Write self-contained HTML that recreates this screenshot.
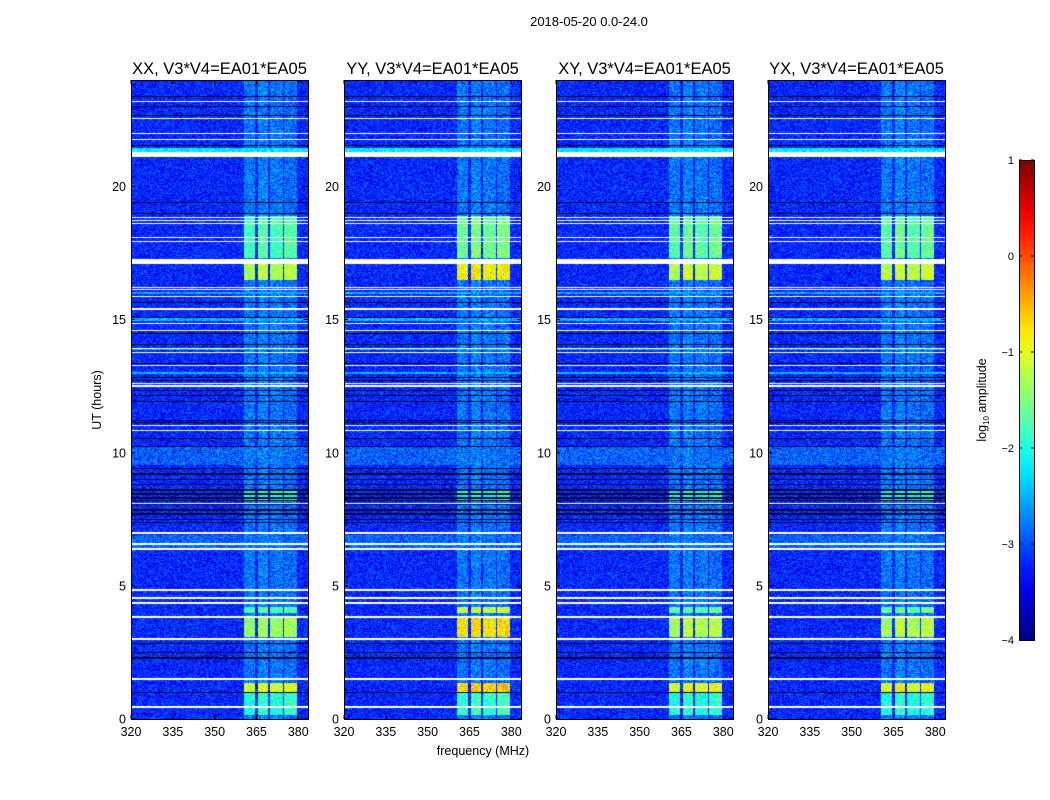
<!DOCTYPE html>
<html><head><meta charset="utf-8">
<style>
body{margin:0;background:#fff;}
#root{position:relative;width:1050px;height:800px;background:#fff;font-family:"Liberation Sans",sans-serif;overflow:hidden;}
canvas{position:absolute;}
</style></head>
<body>
<div id="root">
<svg id="svg" width="1050" height="800" style="position:absolute;left:0;top:0"></svg>
</div>
<script>
// ---- data ----
const panelTitles = ["XX, V3*V4=EA01*EA05","YY, V3*V4=EA01*EA05","XY, V3*V4=EA01*EA05","YX, V3*V4=EA01*EA05"];
const xTicks = [320,335,350,365,380];
const yTicks = [0,5,10,15,20];
const cbTicks = [1,0,-1,-2,-3,-4];
const freqBands = [[360.5,364.5],[365.5,369],[370,374.5],[375,379.5]];
const whiteLines = [23.2,22.55,21.99,21.76,18.84,18.72,18.6,18.09,17.94,16.2,16.14,15.87,15.4,14.85,14.6,13.92,13.77,13.28,12.6,12.5,11.03,10.84,8.1,6.98,6.57,4.84,4.54,4.35,3.83,3.0,1.5,0.45];
const whiteBands = [[21.1,21.3],[17.1,17.26],[6.33,6.42]];
const blackLines = [23.38,23.0,22.66,21.54,19.4,18.98,15.65,15.08,14.48,14.07,13.35,12.83,12.72,12.35,12.16,11.93,11.2,11.13,10.54,10.24,9.4,9.2,9.0,8.8,8.6,8.45,8.3,8.2,8.05,7.85,7.7,7.5,7.39,2.85,2.51,2.29,1.0];
const raisedRows = [[21.3,21.45,-2.2],[15.95,16.05,-2.5],[14.95,15.05,-2.5],[13.85,13.92,-2.5],[12.95,13.05,-2.5],[9.53,10.2,-2.9],[6.42,6.9,-2.9]];
const bandBase = [-2.8,-2.75,-2.8,-2.85];
const patchStart = [17.33,16.47,8.2,4.0,3.08,1.0,0.15];
const patchEnd   = [18.9,17.1,8.6,4.2,3.79,1.35,1.0];
const patchLevelXX = [-1.8,-1.3,-2.0,-1.8,-1.4,-1.1,-2.0];
const patchLevelYY = [-1.6,-0.9,-2.0,-1.2,-0.8,-0.7,-1.9];
const patchLevelXY = [-1.7,-1.2,-2.0,-1.7,-1.3,-1.0,-2.0];
const patchLevelYX = [-1.7,-1.2,-2.0,-1.7,-1.3,-1.0,-2.0];
const patchLevels = [patchLevelXX,patchLevelYY,patchLevelXY,patchLevelYX];

// ---- layout ----
const panelLeft=[131,344,556,768], PW=177, PT=80, PH=639;
const fMin=320,fMax=383.5,tMin=0,tMax=24;
const xScale=(f,i)=>panelLeft[i]+(f-fMin)/(fMax-fMin)*PW;
const yScale=t=>PT+PH-(t-tMin)/(tMax-tMin)*PH;
const cbX=1019,cbW=15,cbTop=160,cbBot=640;
const cbScale=v=>cbBot-(v-(-4))/5*(cbBot-cbTop);

function jet(t){t=Math.max(0,Math.min(1,t));const c=x=>Math.round(255*Math.max(0,Math.min(1,x)));
 return [c(1.5-Math.abs(4*t-3)),c(1.5-Math.abs(4*t-2)),c(1.5-Math.abs(4*t-1))];}
function hash(a,b){let h=(a*374761393+b*668265263)|0;h=(h^(h>>>13))*1274126177|0;return ((h^(h>>>16))>>>0)/4294967295;}

const root=document.getElementById('root');
const svg=document.getElementById('svg');
const NS="http://www.w3.org/2000/svg";
function mk(tag,attrs,name,txt){const e=document.createElementNS(NS,tag);for(const k in attrs)e.setAttribute(k,attrs[k]);
 
 
 if(txt!==undefined)e.textContent=txt;svg.appendChild(e);return e;}

for(let p=0;p<4;p++){
 const cv=document.createElement('canvas');cv.width=PW;cv.height=PH;
 cv.style.left=panelLeft[p]+'px';cv.style.top=PT+'px';
 
 
 root.insertBefore(cv,svg);
 const ctx=cv.getContext('2d');const img=ctx.createImageData(PW,PH);
 const rowType=[];
 for(let y=0;y<PH;y++){
  const t=tMax-(y+0.5)/PH*(tMax-tMin);const dt=0.5/PH*24;
  let type='d';
  for(const b of blackLines) if(Math.abs(t-b)<dt*1.2) type='k';
  for(const w of whiteLines) if(Math.abs(t-w)<dt*1.4) type='w';
  for(const w of whiteBands) if(t>=w[0]&&t<=w[1]) type='w';
  rowType.push([type,t]);
 }
 for(let y=0;y<PH;y++){
  const [type,t]=rowType[y];
  let raise=null;for(const r of raisedRows) if(t>=r[0]&&t<=r[1]) raise=r[2];
  let patch=null;for(let k=0;k<patchStart.length;k++) if(t>=patchStart[k]&&t<=patchEnd[k]) patch=patchLevels[p][k];
  for(let x=0;x<PW;x++){
   const f=fMin+(x+0.5)/PW*(fMax-fMin);
   let rgb;
   if(type==='w') rgb=[255,255,255];
   else if(type==='k') rgb=[10,10,40];
   else{
    let v=-3.2;
    if(raise!==null) v=raise;
    let inBand=-1;freqBands.forEach((b,i)=>{if(f>=b[0]&&f<=b[1])inBand=i;});
    if(inBand>=0){v=Math.max(v,bandBase[inBand]); if(patch!==null) v=patch+(inBand%2?0.1:0);}
    v+= (hash(x+p*1000,y)-0.5)*0.8;
    rgb=jet((v+4)/5);
   }
   const o=(y*PW+x)*4;img.data[o]=rgb[0];img.data[o+1]=rgb[1];img.data[o+2]=rgb[2];img.data[o+3]=255;
  }
 }
 ctx.putImageData(img,0,0);

 mk('rect',{x:panelLeft[p]+0.5,y:PT+0.5,width:PW,height:PH,fill:'none',stroke:'#000','stroke-width':1},'panel-frame-'+p);
 mk('text',{x:panelLeft[p]+PW/2,y:74,'text-anchor':'middle','font-size':16.5},'panel-title-'+p,panelTitles[p]);
 xTicks.forEach(v=>{const x=xScale(v,p);
  mk('line',{x1:x,x2:x,y1:PT+PH,y2:PT+PH-4,stroke:'#000'},'x-tick');
  mk('line',{x1:x,x2:x,y1:PT,y2:PT+4,stroke:'#000'},'x-tick-top');
  mk('text',{x:x,y:PT+PH+17,'text-anchor':'middle','font-size':12.5},'x-tick-label',v);});
 yTicks.forEach(v=>{const y=yScale(v);
  mk('line',{x1:panelLeft[p],x2:panelLeft[p]+4,y1:y,y2:y,stroke:'#000'},'y-tick');
  mk('line',{x1:panelLeft[p]+PW,x2:panelLeft[p]+PW-4,y1:y,y2:y,stroke:'#000'},'y-tick-right');
  mk('text',{x:panelLeft[p]-5,y:y+4.5,'text-anchor':'end','font-size':12.5},'y-tick-label',v);});
}
mk('text',{x:589,y:26,'text-anchor':'middle','font-size':13},'figure-title','2018-05-20 0.0-24.0');
mk('text',{x:483,y:755,'text-anchor':'middle','font-size':12.5},'x-axis-title','frequency (MHz)');
mk('text',{x:101,y:400,'text-anchor':'middle','font-size':12.5,transform:'rotate(-90 101 400)'},'y-axis-title','UT (hours)');

const defs=mk('defs',{},'defs');
const lg=document.createElementNS(NS,'linearGradient');lg.setAttribute('id','jetg');lg.setAttribute('x1','0');lg.setAttribute('y1','1');lg.setAttribute('x2','0');lg.setAttribute('y2','0');
for(let i=0;i<=20;i++){const s=document.createElementNS(NS,'stop');const c=jet(i/20);s.setAttribute('offset',i/20);s.setAttribute('stop-color','rgb('+c.join(',')+')');lg.appendChild(s);}
defs.appendChild(lg);
mk('rect',{x:cbX+0.5,y:cbTop+0.5,width:cbW,height:cbBot-cbTop,fill:'url(#jetg)',stroke:'#000'},'colorbar');
cbTicks.forEach(v=>{const y=cbScale(v);
 mk('line',{x1:cbX+cbW-3,x2:cbX+cbW,y1:y,y2:y,stroke:'#000'},'colorbar-tick');
 mk('line',{x1:cbX,x2:cbX+3,y1:y,y2:y,stroke:'#000'},'colorbar-tick-left');
 mk('text',{x:cbX-5,y:y+4,'text-anchor':'end','font-size':11},'colorbar-tick-label',v<0?'\u2212'+(-v):v);});
const cl=mk('text',{x:986,y:400,'text-anchor':'middle','font-size':12.5,transform:'rotate(-90 986 400)'},'colorbar-label');
cl.innerHTML='log<tspan font-size="8" dy="3">10</tspan><tspan dy="-3"> amplitude</tspan>';
</script>
</body></html>
